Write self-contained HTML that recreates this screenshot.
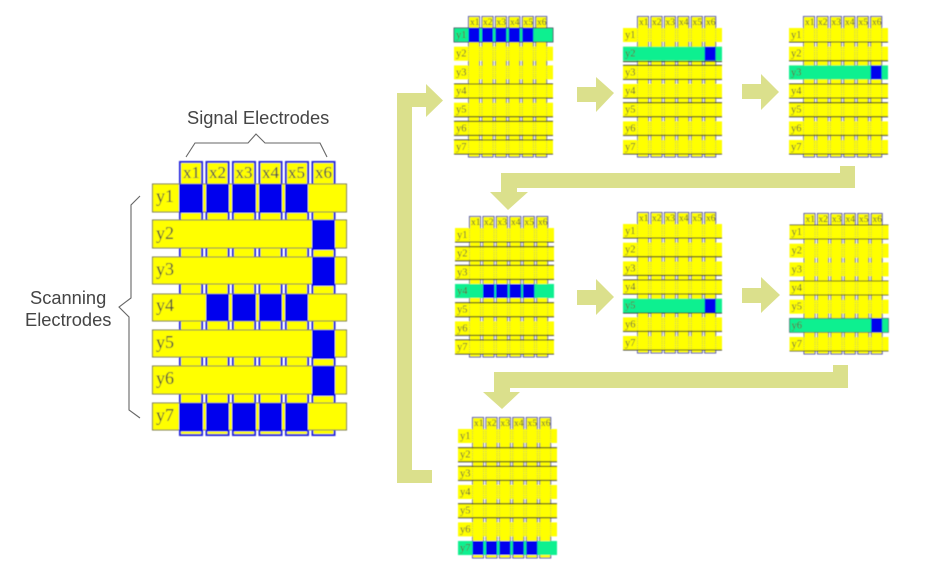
<!DOCTYPE html>
<html><head><meta charset="utf-8"><style>
html,body{margin:0;padding:0;background:#fff;width:930px;height:570px;overflow:hidden}
svg{display:block}
.a{fill:#dbe08c}
.s text{font-family:"Liberation Serif",serif;font-size:9.5px;fill:#5a5a3a}
.s text.y{font-size:10.5px}
.m text{font-family:"Liberation Serif",serif;font-size:18px;fill:#4a4a3a}
.m text.x{font-size:17px;fill:#3f3f50}
.t{font-family:"Liberation Sans",sans-serif;font-size:18.3px;fill:#444}
.d{stroke:#222;stroke-width:1;fill:none}
</style></head><body>
<svg width="930" height="570" viewBox="0 0 930 570" xmlns="http://www.w3.org/2000/svg">
<defs>
<filter id="b" x="-5%" y="-5%" width="110%" height="110%"><feGaussianBlur stdDeviation="0.5"/></filter>
<filter id="c" x="-5%" y="-5%" width="110%" height="110%"><feGaussianBlur stdDeviation="0.45"/></filter>
<filter id="e" x="-5%" y="-20%" width="110%" height="140%"><feGaussianBlur stdDeviation="0.3"/></filter>
<g id="cols" fill="#ffff00" stroke="#4a4aa8" stroke-width="1">
<rect x="14.5" y="-11.5" width="11" height="140.5"/><rect x="28" y="-11.5" width="11" height="140.5"/><rect x="41.4" y="-11.5" width="11" height="140.5"/><rect x="54.8" y="-11.5" width="11" height="140.5"/><rect x="68.3" y="-11.5" width="11" height="140.5"/><rect x="81.7" y="-11.5" width="11" height="140.5"/>
</g>
<g id="rows" fill="#ffff00">
<rect x="0" y="0" width="99" height="14"/><rect x="0" y="18.7" width="99" height="14"/><rect x="0" y="37.4" width="99" height="14"/><rect x="0" y="56" width="99" height="14"/><rect x="0" y="74.7" width="99" height="14"/><rect x="0" y="93.4" width="99" height="14"/><rect x="0" y="112" width="99" height="14"/>
</g>
<g id="dots" stroke="#a8a860" stroke-width=".8" stroke-dasharray="1 1.2" fill="none">
<path d="M14.5 0V126M25.5 0V126M28 0V126M39 0V126M41.4 0V126M52.4 0V126M54.8 0V126M65.8 0V126M68.3 0V126M79.3 0V126M81.7 0V126M92.7 0V126"/>
</g>
<g id="base"><use href="#cols"/><use href="#rows"/><use href="#dots"/></g>
</defs>

<!-- arrows -->
<path class="a" d="M397 483V93H426V84L443 100.500L426 117V107H412V470H432V483Z"/>
<path class="a" d="M577 87H596V77L614 93L596 112V102H577Z"/>
<path class="a" d="M742 84H761V74L779 92L761 110V99H742Z"/>
<path class="a" d="M577 290H596V279L614 297L596 315V305H577Z"/>
<path class="a" d="M742 288H761V277L780 295L761 313V303H742Z"/>
<path class="a" d="M855 166V188H517V192H528L508 210L490 192H501V173H840V166Z"/>
<path class="a" d="M848 365V388H510V392H520L502 409L483 392H494V372H833V365Z"/>

<!-- main diagram -->
<g class="m" filter="url(#c)">
<g fill="#ffff00" stroke="#2222dd" stroke-width="2">
<rect x="180" y="162" width="22" height="273"/><rect x="206.500" y="162" width="22" height="273"/><rect x="233" y="162" width="22" height="273"/><rect x="259.500" y="162" width="22" height="273"/><rect x="286" y="162" width="22" height="273"/><rect x="312.500" y="162" width="22" height="273"/>
</g>
<g fill="#ffff00" stroke="#77774a" stroke-width="1">
<rect x="152.500" y="184" width="194" height="28"/><rect x="152.500" y="220" width="194" height="28"/><rect x="152.500" y="257" width="194" height="27"/><rect x="152.500" y="294" width="194" height="27"/><rect x="152.500" y="330" width="194" height="27"/><rect x="152.500" y="366" width="194" height="28"/><rect x="152.500" y="403" width="194" height="27"/>
</g>
<g fill="#0000ee">
<rect x="179" y="184" width="24" height="29"/><rect x="206" y="184" width="23" height="29"/><rect x="232" y="184" width="24" height="29"/><rect x="259" y="184" width="23" height="29"/><rect x="285" y="184" width="23" height="29"/>
<rect x="312" y="220" width="23" height="30"/><rect x="312" y="257" width="23" height="29"/>
<rect x="206" y="294" width="23" height="27"/><rect x="232" y="294" width="24" height="27"/><rect x="259" y="294" width="23" height="27"/><rect x="285" y="294" width="23" height="27"/>
<rect x="312" y="330" width="23" height="29"/><rect x="312" y="366" width="23" height="30"/>
<rect x="179" y="403" width="24" height="28.500"/><rect x="206" y="403" width="23" height="28.500"/><rect x="232" y="403" width="24" height="28.500"/><rect x="259" y="403" width="23" height="28.500"/><rect x="285" y="403" width="23" height="28.500"/>
</g>
<text class="x" x="183" y="178">x1</text><text class="x" x="209" y="178">x2</text><text class="x" x="235.500" y="178">x3</text><text class="x" x="262" y="178">x4</text><text class="x" x="288" y="178">x5</text><text class="x" x="315" y="178">x6</text>
<text x="156" y="202">y1</text><text x="156" y="239">y2</text><text x="156" y="275">y3</text><text x="156" y="311">y4</text><text x="156" y="348">y5</text><text x="156" y="384">y6</text><text x="156" y="421">y7</text>
</g>

<!-- braces and captions -->
<g fill="none" stroke="#666" stroke-width="1.100" filter="url(#e)">
<path d="M186 157L195 143H248L256 134L265 143H320L327 157"/>
<path d="M140 196L131 205V298L119 307L129 317V410L140 418"/>
</g>
<text class="t" x="187" y="124" filter="url(#e)">Signal Electrodes</text>
<text class="t" x="30" y="304" filter="url(#e)">Scanning</text>
<text class="t" x="25" y="326" filter="url(#e)">Electrodes</text>

<!-- panel 1 -->
<g class="s" filter="url(#b)" transform="translate(454,28)">
<use href="#base"/>
<rect x="0" y="0" width="99" height="14" fill="#10f090" stroke="#335" stroke-width=".8"/>
<g fill="#0000ee"><rect x="14.500" y="0" width="11" height="14"/><rect x="28" y="0" width="11" height="14"/><rect x="41.400" y="0" width="11" height="14"/><rect x="54.800" y="0" width="11" height="14"/><rect x="68.300" y="0" width="11" height="14"/></g>
<path class="d" d="M0 56H99M0 70H99M0 88.700H99M0 93.400H99M0 107.400H99M0 112H99M0 126H99"/>
<text x="16" y="-3">x1</text><text x="29" y="-3">x2</text><text x="42.500" y="-3">x3</text><text x="56" y="-3">x4</text><text x="69.500" y="-3">x5</text><text x="83" y="-3">x6</text>
<text class="y" x="2" y="10">y1</text><text class="y" x="2" y="28.700">y2</text><text class="y" x="2" y="47.400">y3</text><text class="y" x="2" y="66">y4</text><text class="y" x="2" y="84.700">y5</text><text class="y" x="2" y="103.400">y6</text><text class="y" x="2" y="122">y7</text>
</g>

<!-- panel 2 -->
<g class="s" filter="url(#b)" transform="translate(623,28)">
<use href="#base"/>
<rect x="0" y="18.700" width="99" height="14" fill="#10f090"/>
<rect x="81.700" y="18.700" width="11" height="14" fill="#0000ee"/>
<path class="d" d="M0 33.500H99M0 37.400H99M0 51.400H99M0 70H99M0 74.700H99M0 88.700H99M0 107.400H99M0 126H99"/>
<text x="16" y="-3">x1</text><text x="29" y="-3">x2</text><text x="42.500" y="-3">x3</text><text x="56" y="-3">x4</text><text x="69.500" y="-3">x5</text><text x="83" y="-3">x6</text>
<text class="y" x="2" y="10">y1</text><text class="y" x="2" y="28.700">y2</text><text class="y" x="2" y="47.400">y3</text><text class="y" x="2" y="66">y4</text><text class="y" x="2" y="84.700">y5</text><text class="y" x="2" y="103.400">y6</text><text class="y" x="2" y="122">y7</text>
</g>

<!-- panel 3 -->
<g class="s" filter="url(#b)" transform="translate(789,28)">
<use href="#base"/>
<rect x="0" y="37.400" width="99" height="14" fill="#10f090"/>
<rect x="81.700" y="37.400" width="11" height="14" fill="#0000ee"/>
<path class="d" d="M0 14H99M0 32.700H99M0 56H99M0 70H99M0 74.700H99M0 88.700H99M0 107.400H99M0 126H99"/>
<text x="16" y="-3">x1</text><text x="29" y="-3">x2</text><text x="42.500" y="-3">x3</text><text x="56" y="-3">x4</text><text x="69.500" y="-3">x5</text><text x="83" y="-3">x6</text>
<text class="y" x="2" y="10">y1</text><text class="y" x="2" y="28.700">y2</text><text class="y" x="2" y="47.400">y3</text><text class="y" x="2" y="66">y4</text><text class="y" x="2" y="84.700">y5</text><text class="y" x="2" y="103.400">y6</text><text class="y" x="2" y="122">y7</text>
</g>

<!-- panel 4 -->
<g class="s" filter="url(#b)" transform="translate(455,228)">
<use href="#base"/>
<rect x="0" y="56" width="99" height="14" fill="#10f090"/>
<g fill="#0000ee"><rect x="28" y="56" width="11.500" height="14"/><rect x="41" y="56" width="11.800" height="14"/><rect x="54.400" y="56" width="11.800" height="14"/><rect x="67.900" y="56" width="11.500" height="14"/></g>
<path class="d" d="M0 14H99M0 18.700H99M0 32.700H99M0 37.400H99M0 51.400H99M0 74.700H99M0 88.700H99M0 107.400H99M0 112H99M0 126H99"/>
<text x="16" y="-3">x1</text><text x="29" y="-3">x2</text><text x="42.500" y="-3">x3</text><text x="56" y="-3">x4</text><text x="69.500" y="-3">x5</text><text x="83" y="-3">x6</text>
<text class="y" x="2" y="10">y1</text><text class="y" x="2" y="28.700">y2</text><text class="y" x="2" y="47.400">y3</text><text class="y" x="2" y="66">y4</text><text class="y" x="2" y="84.700">y5</text><text class="y" x="2" y="103.400">y6</text><text class="y" x="2" y="122">y7</text>
</g>

<!-- panel 5 -->
<g class="s" filter="url(#b)" transform="translate(623,224)">
<use href="#base"/>
<rect x="0" y="74.700" width="99" height="14" fill="#10f090"/>
<rect x="81.700" y="74.700" width="11" height="14" fill="#0000ee"/>
<path class="d" d="M0 14H99M0 32.700H99M0 51.400H99M0 56H99M0 70H99M0 89H99M0 107.400H99M0 126H99"/>
<text x="16" y="-3">x1</text><text x="29" y="-3">x2</text><text x="42.500" y="-3">x3</text><text x="56" y="-3">x4</text><text x="69.500" y="-3">x5</text><text x="83" y="-3">x6</text>
<text class="y" x="2" y="10">y1</text><text class="y" x="2" y="28.700">y2</text><text class="y" x="2" y="47.400">y3</text><text class="y" x="2" y="66">y4</text><text class="y" x="2" y="84.700">y5</text><text class="y" x="2" y="103.400">y6</text><text class="y" x="2" y="122">y7</text>
</g>

<!-- panel 6 -->
<g class="s" filter="url(#b)" transform="translate(789.500,225)">
<use href="#base"/>
<rect x="0" y="93.400" width="99" height="14" fill="#10f090" stroke="#335" stroke-width=".6"/>
<rect x="81.700" y="93.400" width="11" height="14" fill="#0000ee"/>
<path class="d" d="M0 0H99M0 14H99M0 56H99M0 70H99M0 126H99" opacity=".75"/>
<text x="16" y="-3">x1</text><text x="29" y="-3">x2</text><text x="42.500" y="-3">x3</text><text x="56" y="-3">x4</text><text x="69.500" y="-3">x5</text><text x="83" y="-3">x6</text>
<text class="y" x="2" y="10">y1</text><text class="y" x="2" y="28.700">y2</text><text class="y" x="2" y="47.400">y3</text><text class="y" x="2" y="66">y4</text><text class="y" x="2" y="84.700">y5</text><text class="y" x="2" y="103.400">y6</text><text class="y" x="2" y="122">y7</text>
</g>

<!-- panel 7 -->
<g class="s" filter="url(#b)" transform="translate(458,429)">
<use href="#base"/>
<rect x="0" y="112" width="99" height="14" fill="#10f090"/>
<g fill="#0000ee"><rect x="14.500" y="112" width="11" height="14"/><rect x="28" y="112" width="11" height="14"/><rect x="41.400" y="112" width="11" height="14"/><rect x="54.800" y="112" width="11" height="14"/><rect x="68.300" y="112" width="11" height="14"/></g>
<path class="d" d="M0 18.700H99M0 32.700H99M0 37.400H99M0 51.400H99M0 74.700H99M0 88.700H99"/>
<text x="16" y="-3">x1</text><text x="29" y="-3">x2</text><text x="42.500" y="-3">x3</text><text x="56" y="-3">x4</text><text x="69.500" y="-3">x5</text><text x="83" y="-3">x6</text>
<text class="y" x="2" y="10">y1</text><text class="y" x="2" y="28.700">y2</text><text class="y" x="2" y="47.400">y3</text><text class="y" x="2" y="66">y4</text><text class="y" x="2" y="84.700">y5</text><text class="y" x="2" y="103.400">y6</text><text class="y" x="2" y="122">y7</text>
</g>
</svg>
</body></html>
